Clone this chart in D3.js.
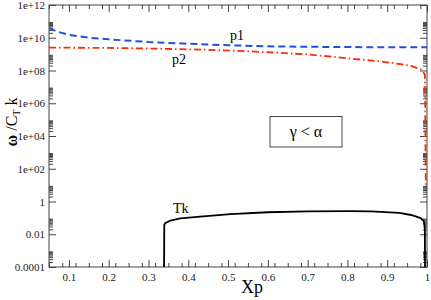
<!DOCTYPE html>
<html><head><meta charset="utf-8">
<script src="https://cdn.jsdelivr.net/npm/d3@7"></script>
<style>
html,body{margin:0;padding:0;background:#fff;}
svg{display:block;font-family:"Liberation Serif","DejaVu Serif",serif;}
</style></head>
<body><svg id="c" width="431" height="300"></svg>
<script>
// ---- data ----
const xTicks = [0.1,0.2,0.3,0.4,0.5,0.6,0.7,0.8,0.9,1.0];
const xTickLabels = ["0.1","0.2","0.3","0.4","0.5","0.6","0.7","0.8","0.9","1"];
const yTicks = [1e-4,1e-2,1,1e2,1e4,1e6,1e8,1e10,1e12];
const yTickLabels = ["0.0001","0.01","1","1e+02","1e+04","1e+06","1e+08","1e+10","1e+12"];

const p1X = [0.05,0.07,0.1,0.15,0.2,0.3,0.4,0.5,0.6,0.7,0.8,0.9,1.0];
const p1Y = [4.0e10,2.4e10,1.5e10,1.0e10,8e9,5.5e9,4.3e9,3.5e9,3.0e9,2.8e9,2.7e9,2.6e9,2.6e9];

const p2X = [0.05,0.2,0.3,0.43,0.55,0.63,0.7,0.76,0.82,0.88,0.93,0.96,0.984,0.9946,0.9955,0.996,0.997];
const p2Y = [2.5e9,2.4e9,2.2e9,1.9e9,1.5e9,1.2e9,9.5e8,7e8,5e8,3.7e8,2.5e8,1.9e8,1.2e8,5.8e7,1e6,1e4,1e1];

const tkX = [0.3392,0.3397,0.342,0.355,0.38,0.43,0.506,0.6,0.7,0.8,0.86,0.93,0.96,0.984,0.992,0.9946,0.995];
const tkY = [1e-4,0.037,0.048,0.069,0.092,0.12,0.17,0.22,0.25,0.26,0.25,0.2,0.15,0.096,0.063,0.03,1e-4];

// ---- layout ----
const svg = d3.select("#c");
const L=49, R=427, T=5, B=267;
const x = d3.scaleLinear().domain([0.05,1.0]).range([L,R]);
const y = d3.scaleLog().domain([1e-4,1e12]).range([B,T]);
const axisCol = "#444";

const defs = svg.append("defs");
defs.append("clipPath").attr("id","clip").append("rect")
  .attr("x",L).attr("y",T).attr("width",R-L).attr("height",B-T);

// minor ticks lists
const xMinor = d3.range(0,30).map(i=>0.05+ i*(0.1/3)).filter(v=>v>0.0499 && v<1.0001 && Math.abs(Math.round(v*10)-v*10)>1e-6);
const yMinor = [];
for (let e=-4; e<12; e+=2){ for (let m=2;m<=9;m++) yMinor.push(m*Math.pow(10,e)); }

const g = svg.append("g");
const bottomMajor = d3.axisBottom(x).tickValues(xTicks).tickSize(-7).tickFormat("");
const bottomMinor = d3.axisBottom(x).tickValues(xMinor).tickSize(-4).tickFormat("");
const topMajor = d3.axisTop(x).tickValues(xTicks).tickSize(-7).tickFormat("");
const topMinor = d3.axisTop(x).tickValues(xMinor).tickSize(-4).tickFormat("");
const leftMajor = d3.axisLeft(y).tickValues(yTicks).tickSize(-7).tickFormat("");
const leftMinor = d3.axisLeft(y).tickValues(yMinor).tickSize(-4).tickFormat("");
const rightMajor = d3.axisRight(y).tickValues(yTicks).tickSize(-7).tickFormat("");
const rightMinor = d3.axisRight(y).tickValues(yMinor).tickSize(-4).tickFormat("");

function put(ax, tx, ty){
  const a = g.append("g").attr("transform",`translate(${tx},${ty})`).call(ax);
  a.select(".domain").remove();
  a.selectAll("line").attr("stroke",axisCol).attr("stroke-width",1);
  return a;
}
put(bottomMajor,0,B); put(bottomMinor,0,B);
put(topMajor,0,T); put(topMinor,0,T);
put(leftMajor,L,0); put(leftMinor,L,0);
put(rightMajor,R,0); put(rightMinor,R,0);

g.append("rect").attr("x",L).attr("y",T).attr("width",R-L).attr("height",B-T)
  .attr("fill","none").attr("stroke",axisCol).attr("stroke-width",1);

const xl = d3.axisBottom(x).tickValues(xTicks).tickSize(0).tickPadding(6)
  .tickFormat((d,i)=>xTickLabels[i]);
const xa = g.append("g").attr("transform",`translate(0,${B})`).call(xl);
xa.select(".domain").remove();
xa.selectAll("text").attr("font-family","Liberation Serif").attr("font-size",11).attr("fill","#222");

const yl = d3.axisLeft(y).tickValues(yTicks).tickSize(0).tickPadding(4)
  .tickFormat((d,i)=>yTickLabels[i]);
const ya = g.append("g").attr("transform",`translate(${L},0)`).call(yl);
ya.select(".domain").remove();
ya.selectAll("text").attr("font-family","Liberation Serif").attr("font-size",11).attr("fill","#222");

const line = d3.line().x(d=>x(d[0])).y(d=>y(d[1]));
const plot = svg.append("g").attr("clip-path","url(#clip)");
plot.append("path").datum(p1X.map((v,i)=>[v,p1Y[i]])).attr("d",line)
  .attr("fill","none").attr("stroke","#1f4fe0").attr("stroke-width",2)
  .attr("stroke-dasharray","7,4");
plot.append("path").datum(p2X.map((v,i)=>[v,p2Y[i]])).attr("d",line)
  .attr("fill","none").attr("stroke","#ff2a00").attr("stroke-width",1.8)
  .attr("stroke-dasharray","7,3,1.5,3");
plot.append("path").datum(tkX.map((v,i)=>[v,tkY[i]])).attr("d",line)
  .attr("fill","none").attr("stroke","#000").attr("stroke-width",1.8);

const lab = svg.append("g").attr("font-family","Liberation Serif").attr("font-size",14).attr("fill","#000");
lab.append("text").attr("x",230).attr("y",40).text("p1");
lab.append("text").attr("x",172).attr("y",64).text("p2");
lab.append("text").attr("x",173).attr("y",213).text("Tk");

svg.append("rect").attr("x",270).attr("y",116.5).attr("width",72).attr("height",30.5)
  .attr("fill","#fff").attr("stroke","#444").attr("stroke-width",1);
svg.append("text").attr("x",306).attr("y",137).attr("text-anchor","middle")
  .attr("font-family","Liberation Serif").attr("font-size",16).text("γ < α");

svg.append("text").attr("x",252).attr("y",293).attr("text-anchor","middle")
  .attr("font-family","Liberation Serif").attr("font-size",18).text("Xp");
const yt = svg.append("text").attr("transform","translate(17,122) rotate(-90)")
  .attr("text-anchor","middle").attr("font-family","Liberation Serif").attr("font-size",16);
yt.append("tspan").attr("font-weight","bold").text("ω");
yt.append("tspan").text(" /C");
yt.append("tspan").attr("font-size",10).attr("dy",3).text("T");
yt.append("tspan").attr("dy",-3).text(" k");
</script></body></html>
